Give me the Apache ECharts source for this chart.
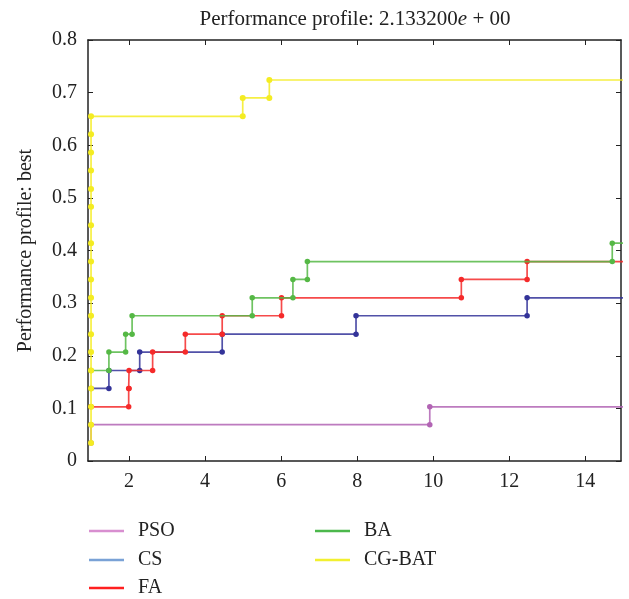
<!DOCTYPE html>
<html>
<head>
<meta charset="utf-8">
<script src="https://cdn.jsdelivr.net/npm/echarts@6/dist/echarts.min.js"></script>
<style>
html,body{margin:0;padding:0;background:#fff;}
#chart{width:629px;height:599px;}
</style>
</head>
<body>
<div id="chart"></div>
<script>
// ---- data (x = performance ratio, y = fraction of problems) ----
const seriesNames = ['PSO', 'CS', 'FA', 'BA', 'CG-BAT'];
const psoData = [[1,0.034],[1,0.069],[9.91,0.069],[9.91,0.103],[15.5,0.103]];
const csData = [[1,0.138],[1.47,0.138],[1.47,0.172],[2.28,0.172],[2.28,0.207],[4.45,0.207],[4.45,0.241],[7.97,0.241],[7.97,0.276],[12.47,0.276],[12.47,0.310],[15.5,0.310]];
const faData = [[1,0.103],[1.99,0.103],[1.99,0.138],[2.0,0.138],[2.0,0.172],[2.62,0.172],[2.62,0.207],[3.48,0.207],[3.48,0.241],[4.45,0.241],[4.45,0.276],[6.01,0.276],[6.01,0.310],[10.74,0.310],[10.74,0.345],[12.47,0.345],[12.47,0.379],[15.5,0.379]];
const baData = [[1,0.172],[1.47,0.172],[1.47,0.207],[1.91,0.207],[1.91,0.241],[2.08,0.241],[2.08,0.276],[5.24,0.276],[5.24,0.310],[6.31,0.310],[6.31,0.345],[6.69,0.345],[6.69,0.379],[14.71,0.379],[14.71,0.414],[15.5,0.414]];
const cgbatData = [[1,0.034],[1,0.069],[1,0.103],[1,0.138],[1,0.172],[1,0.207],[1,0.241],[1,0.276],[1,0.310],[1,0.345],[1,0.379],[1,0.414],[1,0.448],[1,0.483],[1,0.517],[1,0.552],[1,0.586],[1,0.621],[1,0.655],[4.99,0.655],[4.99,0.690],[5.69,0.690],[5.69,0.724],[15.5,0.724]];
const xTickValues = [2, 4, 6, 8, 10, 12, 14];

const lineColors = ['#b264b4', '#333399', '#f52a2a', '#55b845', '#f4ec22'];
const legendColors = ['#d88fd0', '#7aa2d6', '#ff2020', '#4cb84c', '#f2f030'];
const allData = [psoData, csData, faData, baData, cgbatData];
// legend placement (left, top) per entry
const legendPos = [[84, 516], [84, 545], [84, 573], [310, 516], [310, 545]];

const FONT = 'Liberation Serif';
const chart = echarts.init(document.getElementById('chart'), null, {renderer: 'canvas'});

const axisLineStyle = {color: '#222', width: 1.5};
const series = seriesNames.map((n, i) => ({
  name: n,
  type: 'line',
  data: allData[i],
  xAxisIndex: 0, yAxisIndex: 0,
  symbol: 'circle',
  symbolSize: i === 4 ? 6 : 5.5,
  clip: true,
  animation: false,
  lineStyle: {color: lineColors[i], width: 1.7, opacity: 0.85},
  itemStyle: {color: lineColors[i]},
  z: 2 + i
}));

const legends = seriesNames.map((n, i) => ({
  left: legendPos[i][0], top: legendPos[i][1],
  orient: 'vertical',
  itemWidth: 35, itemHeight: 2.5,
  textStyle: {fontFamily: FONT, fontSize: 20, color: '#222', padding: [0, 0, 0, 9]},
  selectedMode: false,
  data: [{name: n, icon: 'rect', itemStyle: {color: legendColors[i]}, lineStyle: {color: legendColors[i]}}]
}));

chart.setOption({
  animation: false,
  backgroundColor: '#fff',
  title: {
    text: 'Performance profile: 2.133200{e|e} + 00',
    left: 350, top: 4, textAlign: 'center',
    textStyle: {fontFamily: FONT, fontSize: 21, fontWeight: 'normal', color: '#222',
      rich: {e: {fontFamily: FONT, fontSize: 21, fontStyle: 'italic', color: '#222'}}}
  },
  grid: {left: 88, right: 8, top: 40, bottom: 138},
  legend: legends,
  xAxis: [
    {type: 'value', position: 'bottom', min: 0.92, max: 14.94,
      axisLine: {show: true, onZero: false, lineStyle: axisLineStyle},
      axisTick: {show: true, inside: true, length: 5, customValues: xTickValues, lineStyle: {color: '#222', width: 1}},
      axisLabel: {show: true, customValues: xTickValues, margin: 11, fontFamily: FONT, fontSize: 20, color: '#222'},
      splitLine: {show: false}},
    {type: 'value', position: 'top', min: 0.92, max: 14.94,
      axisLine: {show: true, onZero: false, lineStyle: axisLineStyle},
      axisTick: {show: true, inside: true, length: 5, customValues: xTickValues, lineStyle: {color: '#222', width: 1}},
      axisLabel: {show: false}, splitLine: {show: false}}
  ],
  yAxis: [
    {type: 'value', position: 'left', min: 0, max: 0.8, interval: 0.1,
      name: 'Performance profile: best', nameLocation: 'middle', nameGap: 52,
      nameTextStyle: {fontFamily: FONT, fontSize: 20, color: '#222'},
      axisLine: {show: true, onZero: false, lineStyle: axisLineStyle},
      axisTick: {show: true, inside: true, length: 5, lineStyle: {color: '#222', width: 1}},
      axisLabel: {show: true, margin: 11, fontFamily: FONT, fontSize: 20, color: '#222',
        formatter: v => String(Math.round(v * 10) / 10)},
      splitLine: {show: false}},
    {type: 'value', position: 'right', min: 0, max: 0.8, interval: 0.1,
      axisLine: {show: true, onZero: false, lineStyle: axisLineStyle},
      axisTick: {show: true, inside: true, length: 5, lineStyle: {color: '#222', width: 1}},
      axisLabel: {show: false}, splitLine: {show: false}}
  ],
  series: series
});
</script>
</body>
</html>
